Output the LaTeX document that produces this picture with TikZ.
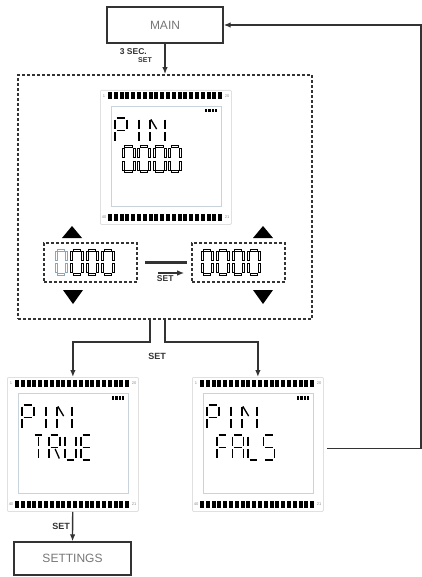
\documentclass[tikz,border=0pt]{standalone}
\usepackage{fontspec}
\setmainfont{Liberation Sans}
\usepackage{xcolor}
\usetikzlibrary{arrows, arrows.meta, positioning}

\definecolor{boxline}{HTML}{333333}
\definecolor{boxtext}{HTML}{767676}
\definecolor{lcdedge}{HTML}{E0E0E0}
\definecolor{lcdglass}{HTML}{C8D3DB}
\definecolor{cursor}{HTML}{86A9C2}

% segments of one lcd character, unit box, y down
\tikzset{
  seg a/.style={insert path={(0,0) -- (1,0)}},
  seg b/.style={insert path={(1,0) -- (1,.5)}},
  seg c/.style={insert path={(1,.5) -- (1,1)}},
  seg d/.style={insert path={(0,1) -- (1,1)}},
  seg e/.style={insert path={(0,.5) -- (0,1)}},
  seg f/.style={insert path={(0,0) -- (0,.5)}},
  seg g/.style={insert path={(0,.5) -- (1,.5)}},
  seg h/.style={insert path={(.5,0) -- (.5,.5)}},
  seg i/.style={insert path={(.5,.5) -- (.5,1)}},
  seg j/.style={insert path={(0,0) -- (.5,.5)}},
  seg k/.style={insert path={(.5,.5) -- (1,1)}},
  segline/.style={line width=1.3pt, shorten <=1.6pt, shorten >=1.6pt},
  digout/.style={line width=3pt, shorten <=1.3pt, shorten >=1.3pt},
  digin/.style={draw=white, line width=1pt, shorten <=2.4pt, shorten >=2.4pt}
}

% one character: [style]{x}{y}{width}{height}{segments}
\newcommand\lcdchar[6][segline]{%
  \begin{scope}[shift={({#2},{#3})}, xscale=#4, yscale=#5]
    \foreach \s in {#6} {\draw[#1, seg \s];}
  \end{scope}}

% hollow zero digit: {x}{y}{width}{height}{colour}
\newcommand\lcdzero[5]{%
  \lcdchar[digout, draw=#5]{#1}{#2}{#3}{#4}{a,b,c,d,e,f}
  \lcdchar[digin]{#1}{#2}{#3}{#4}{a,b,c,d,e,f}}

% display with its two bar rows: {name}{x}{y}
\newcommand\lcdpanel[3]{%
  \node[lcdbox, anchor=north west] (#1) at (#2,#3) {};
  \foreach \i in {0,...,19} {
    \fill ({#2+8+5.8*\i},{#3+2.5}) rectangle +(4,7);
    \fill ({#2+8+5.8*\i},{#3+123.5}) rectangle +(4,7);
  }
  \draw[draw=lcdglass, line width=.7pt] ({#2+11},{#3+16}) rectangle ({#2+121},{#3+116});
  \foreach \i in {0,...,3} {
    \fill ({#2+105+3.3*\i},{#3+19}) rectangle +(2.3,3.5);
  }
  \node[pinlabel] at ({#2+4},{#3+6}) {1};
  \node[pinlabel] at ({#2+127},{#3+6}) {20};
  \node[pinlabel] at ({#2+4},{#3+127}) {40};
  \node[pinlabel] at ({#2+127},{#3+127}) {21};
  % first line: P I N
  \lcdchar{#2+15}{#3+28}{12}{25}{a,b,e,f,g}
  \lcdchar{#2+33}{#3+28}{12}{25}{h,i}
  \lcdchar{#2+50}{#3+28}{15}{25}{b,c,e,f,j}
}

\begin{document}
\begin{tikzpicture}[x=1pt, y=-1pt, >={Latex[length=7pt,width=5.5pt]},
  flowbox/.style={rectangle, draw=boxline, line width=1.4pt, text=boxtext,
    font=\fontsize{12}{14}\selectfont, inner sep=0pt},
  %
  groupbox/.style={rectangle, draw=boxline, line width=1.8pt,
    dash pattern=on 3pt off 2pt, inner sep=0pt},
  %
  digitbox/.style={rectangle, draw=boxline, line width=1.6pt,
    dash pattern=on 3pt off 2pt, inner sep=0pt,
    minimum width=93pt, minimum height=39pt},
  %
  lcdbox/.style={rectangle, draw=lcdedge, line width=.8pt, rounded corners=1pt,
    minimum width=131pt, minimum height=134pt, inner sep=0pt},
  %
  pinlabel/.style={text=black!45, font=\fontsize{4}{4}\selectfont, inner sep=0pt},
  %
  arr/.style={->, draw=boxline, line width=1.3pt},
  %
  setlabel/.style={text=boxline, font=\bfseries\fontsize{9}{10}\selectfont,
    inner sep=1pt}
  ]

  \useasboundingbox (0,0) rectangle (422,577);

  % boxes
  \node[flowbox, minimum width=116pt, minimum height=36pt] (main) at (165,25) {MAIN};
  \node[groupbox, minimum width=294pt, minimum height=244pt] (pinbox) at (165,197) {};
  \node[flowbox, minimum width=117pt, minimum height=33pt] (settings) at (72.5,558.5) {SETTINGS};

  % pin entry
  \lcdpanel{lcdpin}{100}{90}
  \foreach \k in {0,...,3} {
    \lcdzero{100+23+15.5*\k}{90+57}{11}{25}{black}
  }

  \node[digitbox] (dleft) at (90.5,262.5) {};
  \node[digitbox] (dright) at (238.5,262.5) {};
  \lcdzero{56}{250}{10.5}{24}{cursor}
  \foreach \k in {1,...,3} {
    \lcdzero{56+15.5*\k}{250}{10.5}{24}{black}
  }
  \foreach \k in {0,...,3} {
    \lcdzero{202+15.5*\k}{250}{10.5}{24}{black}
  }

  % up and down keys
  \fill (62,238) -- ++(20,0) -- ++(-10,-12) -- cycle;
  \fill (63,290) -- ++(20,0) -- ++(-10,14) -- cycle;
  \fill (253,238) -- ++(20,0) -- ++(-10,-12) -- cycle;
  \fill (253,290) -- ++(20,0) -- ++(-10,14) -- cycle;

  \draw[line width=3.5pt, draw=boxline, shorten <=7pt, shorten >=4pt] (dleft) -- (dright);
  \draw[arr] ([xshift=20pt,yshift=-10.5pt]dleft.east) -- ([xshift=-7pt,yshift=-10.5pt]dright.west)
  node[setlabel, pos=.28, below=1pt, font=\bfseries\fontsize{8.5}{10}\selectfont] {SET};

  % results
  \lcdpanel{lcdtrue}{7}{377}
  \lcdchar{7+26}{377+58}{11}{25}{a,h,i}
  \lcdchar{7+26+16}{377+58}{11}{25}{a,b,e,f,g,k}
  \lcdchar{7+26+32}{377+58}{11}{25}{b,c,d,e,f}
  \lcdchar{7+26+48}{377+58}{11}{25}{a,d,e,f,g}

  \lcdpanel{lcdfals}{192}{377}
  \lcdchar{192+25}{377+58}{11}{25}{a,e,f,g}
  \lcdchar{192+25+15.5}{377+58}{11}{25}{a,b,c,e,f,g}
  \lcdchar{192+25+31}{377+58}{11}{25}{d,e,f}
  \lcdchar{192+25+46.5}{377+58}{11}{25}{a,c,d,f,g}

  % connectors
  \draw[arr] (main) -- (pinbox);
  \node[setlabel, anchor=north east, font=\bfseries\fontsize{8.5}{9}\selectfont] (sec)
    at ([xshift=-17pt,yshift=-4pt]main.south) {3 SEC.};
  \node[setlabel, anchor=north east, font=\bfseries\fontsize{7}{8}\selectfont] (setmain)
    at ([xshift=-12pt,yshift=-13pt]main.south) {SET};

  \draw[arr] ([xshift=-15pt]pinbox.south) -- ++(0,22) -| (lcdtrue.north);
  \draw[arr] (pinbox.south) -- ++(0,22) -| (lcdfals.north);
  \node[setlabel] (setpin) at ([xshift=-8pt,yshift=-36pt]pinbox.south) {SET};

  \draw[arr] (lcdtrue) -- (settings)
  node[setlabel, midway, left, xshift=-1pt] {SET};

  \coordinate (ret) at (421,25);
  \draw[arr] ([xshift=3pt,yshift=-4pt]lcdfals.east) -| (ret) -- (main);

\end{tikzpicture}
\end{document}
